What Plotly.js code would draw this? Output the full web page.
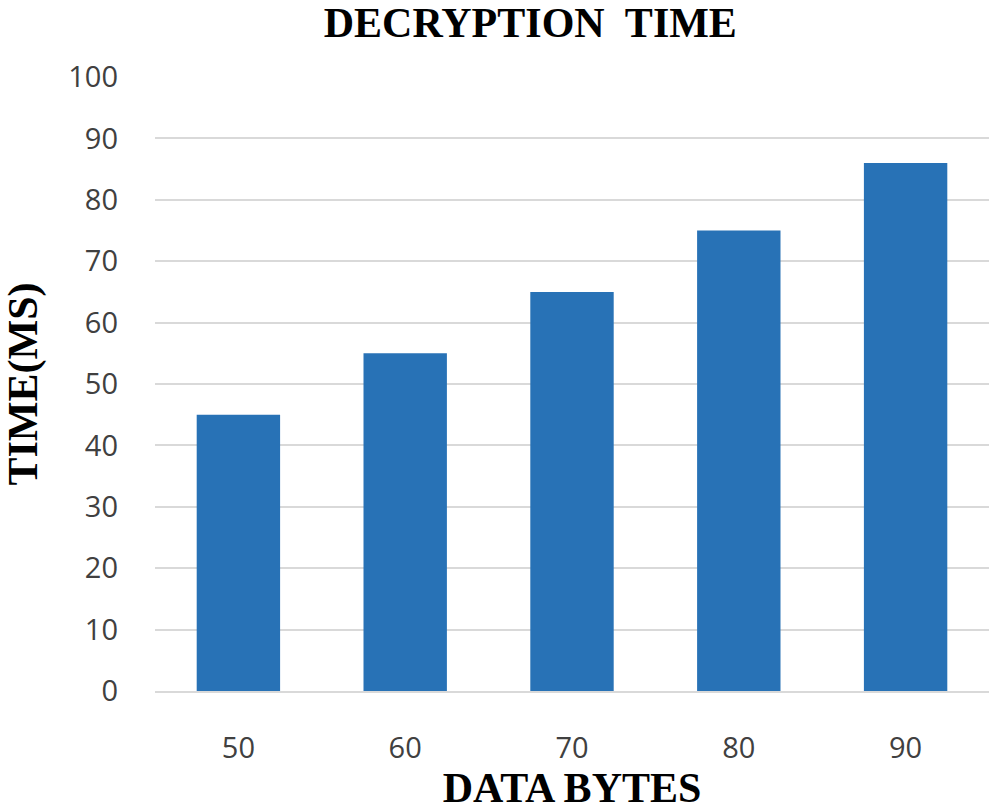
<!DOCTYPE html>
<html>
<head>
<meta charset="utf-8">
<script src="https://cdn.plot.ly/plotly-3.0.1.min.js"></script>
<style>html,body{margin:0;padding:0;background:#fff;}#chart{width:995px;height:811px;}</style>
</head>
<body>
<div id="chart"></div>
<script>
const categories = ["50", "60", "70", "80", "90"];
const decryptionTime = [45, 55, 65, 75, 86];
const yTicks = [0, 10, 20, 30, 40, 50, 60, 70, 80, 90, 100];

const trace = {
  type: "bar",
  x: categories,
  y: decryptionTime,
  width: 0.5,
  marker: {color: "#2872B6"},
  hoverinfo: "x+y"
};

const layout = {
  width: 995,
  height: 811,
  margin: {l: 155, r: 6, t: 77, b: 120},
  paper_bgcolor: "#ffffff",
  plot_bgcolor: "#ffffff",
  showlegend: false,
  title: {
    text: "DECRYPTION  TIME",
    font: {family: "Liberation Serif, Times New Roman, serif", size: 42, color: "#000000", weight: "bold"},
    x: 0.533, xref: "container", xanchor: "center",
    y: 0.972, yref: "container", yanchor: "middle"
  },
  xaxis: {
    type: "category",
    tickfont: {family: "Open Sans, sans-serif", size: 29, color: "#404040"},
    ticks: "",
    ticklabelstandoff: 30,
    showline: true,
    linecolor: "#d9d9d9",
    linewidth: 2,
    showgrid: false,
    title: {
      text: "DATA BYTES",
      font: {family: "Liberation Serif, Times New Roman, serif", size: 42, color: "#000000", weight: "bold"},
      standoff: 22
    }
  },
  yaxis: {
    range: [0, 100],
    tickvals: yTicks,
    ticktext: yTicks.map(String),
    tickfont: {family: "Open Sans, sans-serif", size: 29, color: "#404040"},
    ticks: "",
    ticklabelstandoff: 36,
    showgrid: true,
    gridcolor: "#d9d9d9",
    gridwidth: 2,
    zeroline: false,
    showline: false,
    title: {
      text: "TIME(MS)",
      font: {family: "Liberation Serif, Times New Roman, serif", size: 42, color: "#000000", weight: "bold"},
      standoff: 22
    }
  }
};

Plotly.newPlot("chart", [trace], layout, {displayModeBar: false, staticPlot: true});
</script>
</body>
</html>
